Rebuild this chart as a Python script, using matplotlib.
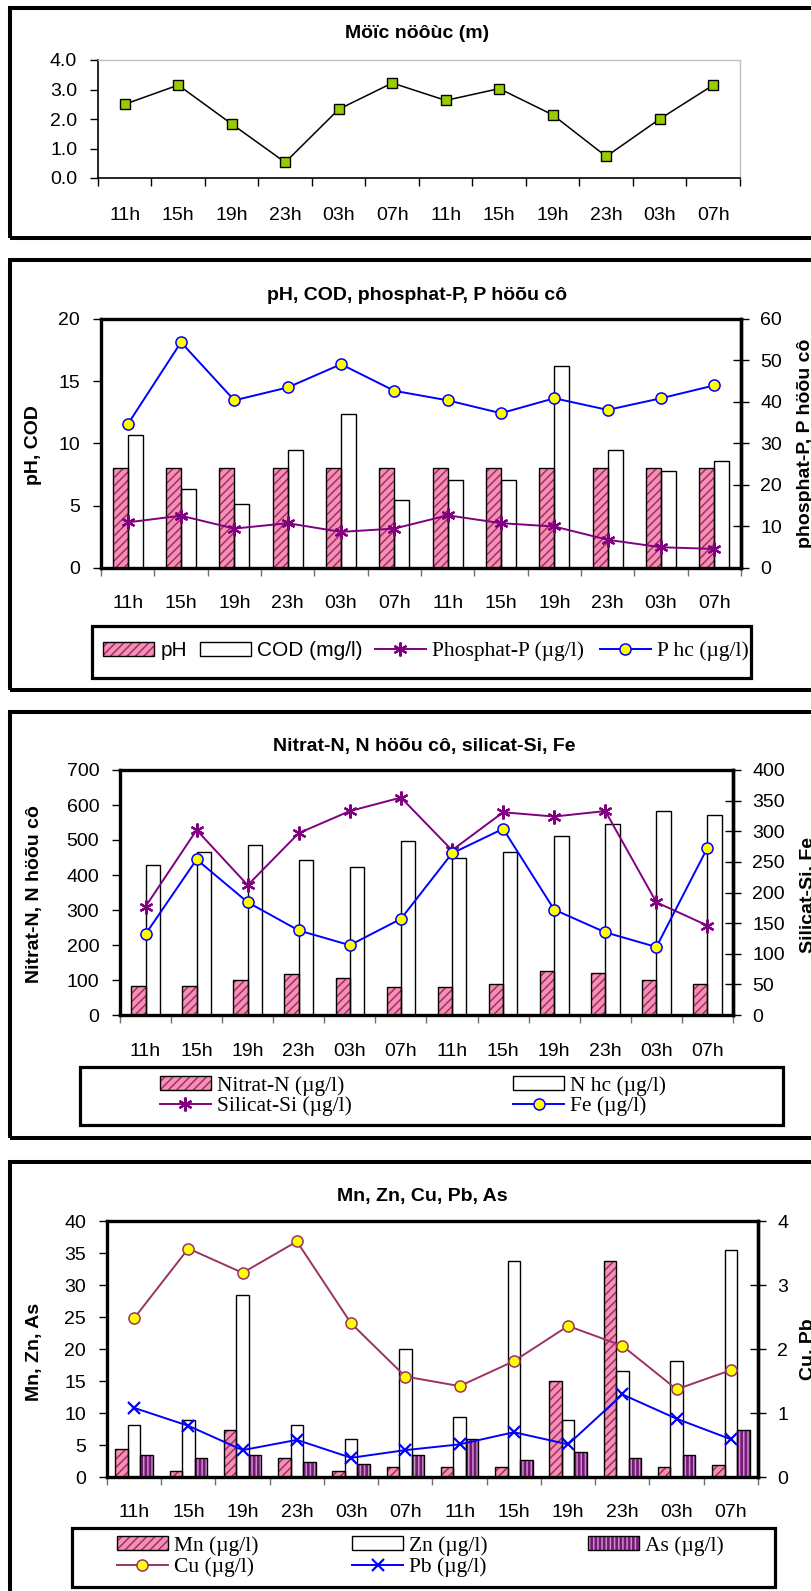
import numpy as np
import matplotlib
matplotlib.use('Agg')
import matplotlib.pyplot as plt
from matplotlib.patches import Rectangle, Patch
from matplotlib.lines import Line2D
from matplotlib.legend_handler import HandlerTuple

# ---------------- data ----------------
cats = ['11h', '15h', '19h', '23h', '03h', '07h', '11h', '15h', '19h', '23h', '03h', '07h']
water_level = [2.50, 3.15, 1.83, 0.53, 2.33, 3.22, 2.63, 3.03, 2.14, 0.73, 2.00, 3.15]

ph = [8.0, 8.0, 8.0, 8.0, 8.0, 8.0, 8.0, 8.0, 8.0, 8.0, 8.0, 8.0]
cod = [10.7, 6.36, 5.13, 9.5, 12.4, 5.43, 7.09, 7.09, 16.26, 9.5, 7.83, 8.6]
phosphat = [11.0, 12.6, 9.5, 10.8, 8.7, 9.5, 12.7, 10.8, 10.0, 6.8, 5.0, 4.6]
p_hc = [34.6, 54.4, 40.4, 43.5, 49.1, 42.7, 40.4, 37.3, 40.9, 38.1, 40.9, 44.0]

nitrat = [84, 84, 100, 116, 106, 79, 79, 89, 127, 121, 100, 89]
n_hc = [428, 465, 486, 443, 422, 496, 449, 465, 512, 545, 583, 571]
silicat = [177, 302, 212, 297, 333, 355, 269, 331, 324, 333, 184, 146]
fe = [132, 254, 184, 138, 114, 157, 264, 304, 172, 135, 111, 273]

mn = [4.4, 0.9, 7.4, 3.0, 0.9, 1.5, 1.5, 1.5, 15.0, 33.75, 1.5, 1.8]
zn = [8.2, 8.85, 28.5, 8.2, 5.9, 19.95, 9.4, 33.75, 8.85, 16.5, 18.2, 35.5]
as_ = [3.5, 3.0, 3.5, 2.4, 2.1, 3.5, 5.9, 2.7, 3.85, 3.0, 3.5, 7.4]
cu = [2.48, 3.57, 3.19, 3.68, 2.40, 1.57, 1.42, 1.81, 2.36, 2.05, 1.37, 1.67]
pb = [1.08, 0.80, 0.42, 0.58, 0.30, 0.42, 0.51, 0.70, 0.51, 1.29, 0.91, 0.59]

# ---------------- style ----------------
plt.rcParams['font.family'] = ['Liberation Sans', 'DejaVu Sans']
plt.rcParams['hatch.linewidth'] = 1.1
SERIF = ['Liberation Serif', 'DejaVu Serif']
PINK_FACE, PINK_HATCH = '#EE92B8', '#B3265E'
AS_FACE, AS_HATCH = '#761876', '#C88FC8'
PURPLE = '#800080'
BLUE = '#0000FF'
CU_COL = '#993366'
YEL = '#FFFF00'
STAR = (6, 2, 0)
TICK_FS = 14
TITLE_FS = 14
YLAB_FS = 14
LEG_FS = 15.5

W, H = 812, 1591
fig = plt.figure(figsize=(W / 100, H / 100), dpi=100)
x = np.arange(len(cats))


def add_axes(x0, y0, x1, y1):
    return fig.add_axes([x0 / W, 1 - y1 / H, (x1 - x0) / W, (y1 - y0) / H])


def border(x0, y0, x1, y1, lw=2.9):
    fig.add_artist(Rectangle((x0 / W, 1 - y1 / H), (x1 - x0) / W, (y1 - y0) / H,
                             transform=fig.transFigure, fill=False,
                             edgecolor='black', lw=lw, clip_on=False, zorder=0))


def setup_x(ax, pad, tcolor='#707070'):
    n = len(cats)
    ax.set_xlim(-0.5, n - 0.5)
    ax.set_xticks(np.arange(n + 1) - 0.5)
    ax.set_xticklabels([])
    ax.set_xticks(x, minor=True)
    ax.set_xticklabels(cats, minor=True, fontsize=TICK_FS)
    ax.tick_params(axis='x', which='major', direction='out', length=5.5, width=1, color=tcolor)
    ax.tick_params(axis='x', which='minor', length=0, pad=pad)


def setup_yl(ax, lo, hi, step, fmt=None):
    ax.set_ylim(lo, hi)
    ticks = np.arange(lo, hi + step / 2, step)
    ax.set_yticks(ticks)
    if fmt:
        ax.set_yticklabels([fmt % t for t in ticks])
    ax.tick_params(axis='y', direction='out', length=6, width=1, pad=9, labelsize=TICK_FS)


def setup_yr(ax2, lo, hi, step):
    ax2.set_ylim(lo, hi)
    ax2.set_yticks(np.arange(lo, hi + step / 2, step))
    ax2.tick_params(axis='y', direction='inout', length=12, width=1, pad=8, labelsize=TICK_FS)
    for s in ['left', 'top', 'bottom']:
        ax2.spines[s].set_visible(False)
    ax2.spines['right'].set_linewidth(2.4)


def thick_frame(ax):
    for s in ax.spines.values():
        s.set_linewidth(2.4)
        s.set_color('black')


def hbar(ax, pos, h, w, face, hatch=None, hcolor='black', z=2):
    if hatch:
        ax.bar(pos, h, w, color=face, edgecolor=hcolor, hatch=hatch, linewidth=0, zorder=z)
        ax.bar(pos, h, w, fill=False, edgecolor='black', linewidth=1.0, zorder=z + 0.1)
    else:
        ax.bar(pos, h, w, color=face, edgecolor='black', linewidth=1.0, zorder=z)


def bar_handle(face, hatch=None, hcolor='black'):
    if hatch:
        return (Patch(facecolor=face, edgecolor=hcolor, hatch=hatch, lw=0),
                Patch(fill=False, edgecolor='black', lw=1.0))
    return Patch(facecolor=face, edgecolor='black', lw=1.0)


def entry(handle, label, xp, yp, family, size=LEG_FS, hlpx=51):
    fig.legend([handle], [label], loc='center left',
               bbox_to_anchor=(xp / W, 1 - yp / H), bbox_transform=fig.transFigure,
               frameon=False, borderpad=0, borderaxespad=0,
               handlelength=hlpx / (size * 100 / 72), handleheight=0.62,
               handletextpad=0.3, prop={'family': family, 'size': size},
               handler_map={tuple: HandlerTuple(ndivide=1, pad=0)})


def ftext(xp, yp, s, **kw):
    fig.text(xp / W, 1 - yp / H, s, **kw)


# ================= Panel 1: water level =================
border(10, 8, 840, 238)
ax1 = add_axes(98, 60, 740, 178)
ax1.plot(x, water_level, color='black', lw=1.1, marker='s', ms=7.5,
         mfc='#99CC00', mec='black', mew=1.0, zorder=3)
setup_x(ax1, pad=21, tcolor='black')
setup_yl(ax1, 0, 4, 1, fmt='%.1f')
for s in ['top', 'right']:
    ax1.spines[s].set_color('#C0C0C0')
    ax1.spines[s].set_linewidth(1)
for s in ['left', 'bottom']:
    ax1.spines[s].set_linewidth(1.2)
ftext(417, 33, 'Möïc nöôùc (m)', fontsize=TITLE_FS, fontweight='bold', ha='center', va='center')

# ================= Panel 2: pH, COD, phosphat, P hc =================
border(10, 260, 840, 690)
ax2 = add_axes(101, 319, 741, 568)
hbar(ax2, x - 0.14, ph, 0.28, PINK_FACE, '////', PINK_HATCH)
hbar(ax2, x + 0.14, cod, 0.28, 'white')
setup_x(ax2, pad=19.5)
setup_yl(ax2, 0, 20, 5)
thick_frame(ax2)
ax2r = ax2.twinx()
ax2r.plot(x, phosphat, color=PURPLE, lw=1.4, marker=STAR, ms=10, mec=PURPLE, mew=1.6, zorder=3)
ax2r.plot(x, p_hc, color=BLUE, lw=1.4, marker='o', ms=8, mfc=YEL, mec=BLUE, mew=1.1, zorder=3)
setup_yr(ax2r, 0, 60, 10)
ftext(417, 295, 'pH, COD, phosphat-P, P höõu cô', fontsize=TITLE_FS, fontweight='bold', ha='center', va='center')
ftext(34, 445, 'pH, COD', fontsize=YLAB_FS, fontweight='bold', rotation=90, ha='center', va='center')
ftext(797, 443, 'phosphat-P, P höõu cô', fontsize=YLAB_FS, fontweight='bold', rotation=90, ha='left', va='center')
border(92, 626, 751, 678, lw=2.3)
entry(bar_handle(PINK_FACE, '////', PINK_HATCH), 'pH', 103, 651, ['Liberation Sans'], size=15)
entry(bar_handle('white'), 'COD (mg/l)', 200, 651, ['Liberation Sans'], size=15)
entry(Line2D([], [], color=PURPLE, lw=1.4, marker=STAR, ms=10, mec=PURPLE, mew=1.6),
      'Phosphat-P (µg/l)', 375, 651, SERIF)
entry(Line2D([], [], color=BLUE, lw=1.4, marker='o', ms=8, mfc=YEL, mec=BLUE, mew=1.1),
      'P hc (µg/l)', 600, 651, SERIF)

# ================= Panel 3: Nitrat, N hc, Silicat, Fe =================
border(10, 712, 840, 1138)
ax3 = add_axes(120, 770, 733, 1015)
hbar(ax3, x - 0.14, nitrat, 0.28, PINK_FACE, '////', PINK_HATCH)
hbar(ax3, x + 0.14, n_hc, 0.28, 'white')
setup_x(ax3, pad=20)
setup_yl(ax3, 0, 700, 100)
thick_frame(ax3)
ax3r = ax3.twinx()
ax3r.plot(x, silicat, color=PURPLE, lw=1.4, marker=STAR, ms=10, mec=PURPLE, mew=1.6, zorder=3)
ax3r.plot(x, fe, color=BLUE, lw=1.4, marker='o', ms=8, mfc=YEL, mec=BLUE, mew=1.1, zorder=3)
setup_yr(ax3r, 0, 400, 50)
ftext(424, 747, 'Nitrat-N, N höõu cô, silicat-Si, Fe', fontsize=TITLE_FS, fontweight='bold', ha='center', va='center')
ftext(35, 894, 'Nitrat-N, N höõu cô', fontsize=YLAB_FS, fontweight='bold', rotation=90, ha='center', va='center')
ftext(800, 895, 'Silicat-Si, Fe', fontsize=YLAB_FS, fontweight='bold', rotation=90, ha='left', va='center')
border(80, 1067, 783, 1125, lw=2.3)
entry(bar_handle(PINK_FACE, '////', PINK_HATCH), 'Nitrat-N (µg/l)', 160, 1086, SERIF)
entry(Line2D([], [], color=PURPLE, lw=1.4, marker=STAR, ms=10, mec=PURPLE, mew=1.6),
      'Silicat-Si (µg/l)', 160, 1106, SERIF)
entry(bar_handle('white'), 'N hc (µg/l)', 513, 1086, SERIF)
entry(Line2D([], [], color=BLUE, lw=1.4, marker='o', ms=8, mfc=YEL, mec=BLUE, mew=1.1),
      'Fe (µg/l)', 513, 1106, SERIF)

# ================= Panel 4: Mn, Zn, Cu, Pb, As =================
border(10, 1162, 840, 1640)
ax4 = add_axes(107, 1221, 758, 1477)
hbar(ax4, x - 0.23, mn, 0.23, PINK_FACE, '////', PINK_HATCH)
hbar(ax4, x, zn, 0.23, 'white')
hbar(ax4, x + 0.23, as_, 0.23, AS_FACE, '||||', AS_HATCH)
setup_x(ax4, pad=19.5)
setup_yl(ax4, 0, 40, 5)
thick_frame(ax4)
ax4r = ax4.twinx()
ax4r.plot(x, cu, color=CU_COL, lw=1.4, marker='o', ms=8, mfc=YEL, mec=CU_COL, mew=1.1, zorder=3)
ax4r.plot(x, pb, color=BLUE, lw=1.4, marker='x', ms=9, mec=BLUE, mew=1.6, zorder=3)
setup_yr(ax4r, 0, 4, 1)
ftext(422, 1197, 'Mn, Zn, Cu, Pb, As', fontsize=TITLE_FS, fontweight='bold', ha='center', va='center')
ftext(35, 1352, 'Mn, Zn, As', fontsize=YLAB_FS, fontweight='bold', rotation=90, ha='center', va='center')
ftext(800, 1349, 'Cu, Pb', fontsize=YLAB_FS, fontweight='bold', rotation=90, ha='left', va='center')
border(72, 1528, 775, 1587, lw=2.3)
entry(bar_handle(PINK_FACE, '////', PINK_HATCH), 'Mn (µg/l)', 117, 1546, SERIF)
entry(Line2D([], [], color=CU_COL, lw=1.4, marker='o', ms=8, mfc=YEL, mec=CU_COL, mew=1.1),
      'Cu (µg/l)', 117, 1567, SERIF)
entry(bar_handle('white'), 'Zn (µg/l)', 352, 1546, SERIF)
entry(Line2D([], [], color=BLUE, lw=1.4, marker='x', ms=9, mec=BLUE, mew=1.6),
      'Pb (µg/l)', 352, 1567, SERIF)
entry(bar_handle(AS_FACE, '||||', AS_HATCH), 'As (µg/l)', 588, 1546, SERIF)

fig.savefig('out.png', dpi=100)
